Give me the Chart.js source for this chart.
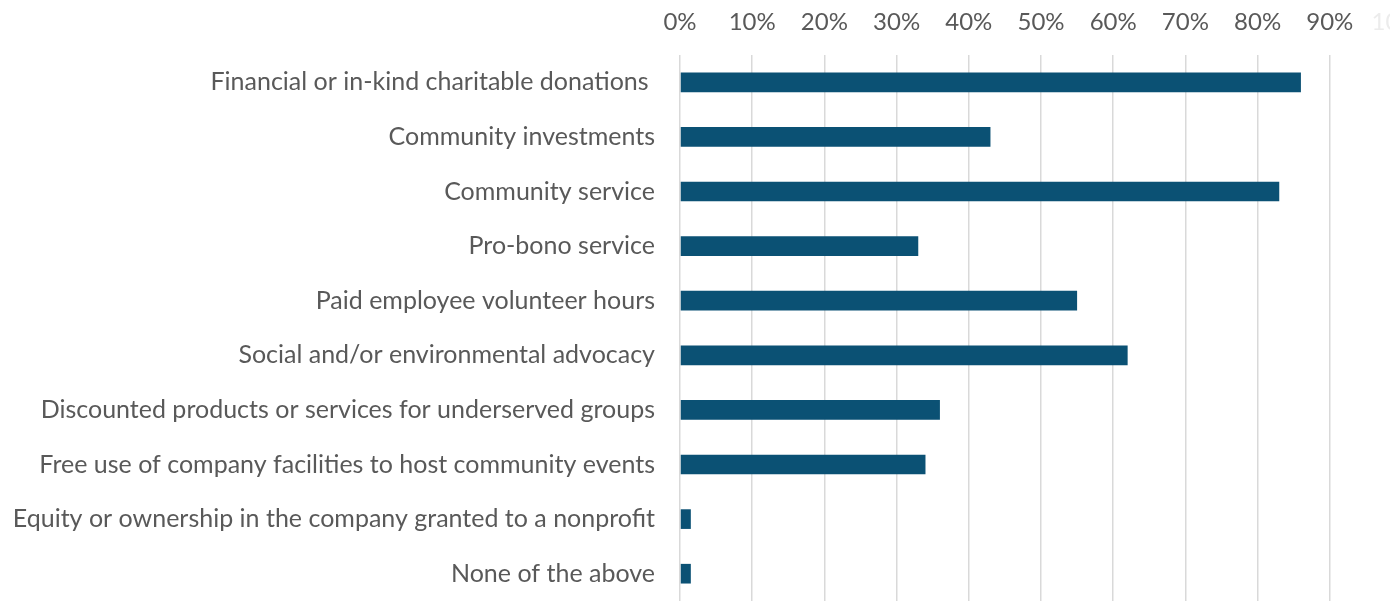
<!DOCTYPE html>
<html>
<head>
<meta charset="utf-8">
<script src="https://cdn.jsdelivr.net/npm/chart.js@4.4.1/dist/chart.umd.min.js"></script>
<style>
	html, body { margin: 0; padding: 0; background: #fff; overflow: hidden; }
	#givingChart { display: block; }
</style>
</head>
<body>
<canvas id="givingChart" width="1440" height="601"></canvas>
<script>
// activities reported by companies, share of respondents (%)
const activities = [
	"Financial or in-kind charitable donations ",
	"Community investments",
	"Community service",
	"Pro-bono service",
	"Paid employee volunteer hours",
	"Social and/or environmental advocacy",
	"Discounted products or services for underserved groups",
	"Free use of company facilities to host community events",
	"Equity or ownership in the company granted to a nonprofit",
	"None of the above"
];
const shares = [86, 43, 83, 33, 55, 62, 36, 34, 1.5, 1.5];

const barColor = "#0b5174";
const textColor = "#595959";
const gridColor = "#d9d9d9";
const fontFamily = "Lato, 'Open Sans', sans-serif";

var ctx = document.getElementById('givingChart').getContext('2d');

// the 100% column sits past the right edge of the window, as in the print version
window.givingChart = new Chart(ctx, {
	type: 'bar',
	data: {
		labels: activities,
		datasets: [{
			data: shares,
			backgroundColor: barColor,
			borderWidth: 0,
			categoryPercentage: 1,
			barPercentage: 0.36
		}]
	},
	options: {
		indexAxis: 'y',
		responsive: false,
		animation: false,
		layout: {
			padding: { left: 0, right: 38, top: 0, bottom: 0 }
		},
		plugins: {
			legend: { display: false },
			tooltip: { enabled: false }
		},
		scales: {
			x: {
				position: 'top',
				min: 0,
				max: 100,
				border: { display: false },
				grid: { color: gridColor, lineWidth: 1.5, drawTicks: false },
				ticks: {
					stepSize: 10,
					padding: 18,
					// last label is cut at the edge, keep it faint
					color: c => c.tick && c.tick.value >= 100 ? "#ececec" : textColor,
					font: { family: fontFamily, size: 24 },
					callback: v => v + '%'
				},
				afterFit: scale => {
					scale.height = 55;
					// don't reserve room for the half-cut 100% label
					scale.paddingLeft = 0;
					scale.paddingRight = 0;
				}
			},
			y: {
				border: { display: false },
				grid: { display: false },
				ticks: {
					padding: 17,
					color: textColor,
					font: { family: fontFamily, size: 25 }
				},
				afterFit: scale => {
					scale.width = 680;
					scale.paddingTop = 0;
					scale.paddingBottom = 0;
				}
			}
		}
	}
});
</script>
</body>
</html>
